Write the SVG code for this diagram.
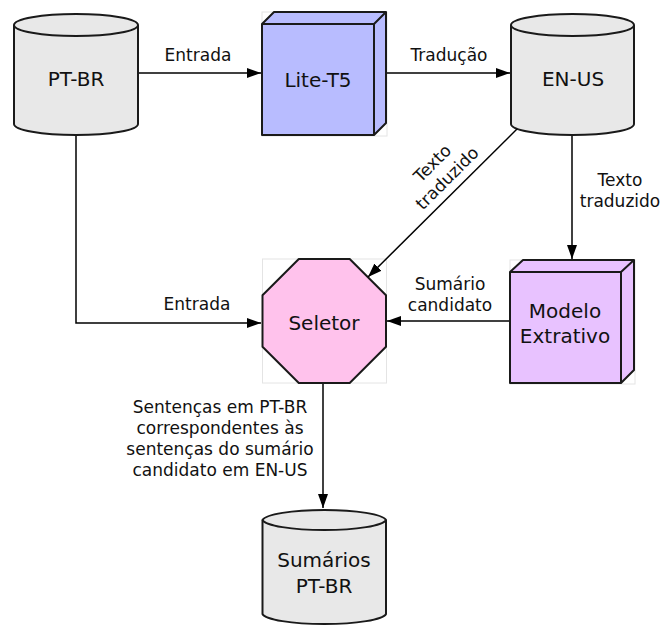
<svg xmlns="http://www.w3.org/2000/svg" width="662" height="626" viewBox="0 0 662 626">
<style>
.cyl{fill:#e8e8e8;stroke:#1a1a1a;stroke-width:2}
.cylin{fill:none;stroke:#1a1a1a;stroke-width:2}
.box{stroke:#1a1a1a;stroke-width:2;stroke-linejoin:round}
.bb{fill:none;stroke:#e4e4e4;stroke-width:1}
.edge{fill:none;stroke:#000;stroke-width:1.5}
text{font-family:"DejaVu Sans","Verdana",sans-serif;fill:#111}
.nl{font-size:20px;text-anchor:middle}
.el{font-size:17px;text-anchor:middle}
</style>
<defs>
<marker id="ah" markerUnits="userSpaceOnUse" markerWidth="15" markerHeight="11" refX="14" refY="5" orient="auto">
<path d="M0,0 L14,5 L0,10 z" fill="#000"/>
</marker>
</defs>
<rect width="662" height="626" fill="#fff"/>
<g id="pt-br">
<path class="cyl" d="M14,25 L14,124 A62,11 0 0 0 138,124 L138,25 A62,11 0 0 0 14,25 Z"/>
<path class="cylin" d="M14,25 A62,11 0 0 0 138,25"/>
<text class="nl" x="76" y="86">PT-BR</text>
</g>
<g id="lite-t5">
<rect class="bb" x="262" y="12" width="125" height="124"/>
<path class="box" fill="#b8bcff" d="M262,24 L274,12 L386,12 L386,123 L374,135 L262,135 Z"/>
<path class="box" fill="none" d="M262,24 L374,24 L374,135 M374,24 L386,12"/>
<text class="nl" x="318" y="87">Lite-T5</text>
</g>
<g id="en-us">
<path class="cyl" d="M511,25 L511,124 A61.5,11 0 0 0 634,124 L634,25 A61.5,11 0 0 0 511,25 Z"/>
<path class="cylin" d="M511,25 A61.5,11 0 0 0 634,25"/>
<text class="nl" x="573" y="86">EN-US</text>
</g>
<g id="seletor">
<rect class="bb" x="262.5" y="259" width="124" height="124"/>
<polygon fill="#ffc2ec" stroke="#1a1a1a" stroke-width="2" stroke-linejoin="round" points="298.8,259 349.7,259 386,295.3 386,346.7 349.7,383 298.8,383 262.5,346.7 262.5,295.3"/>
<text class="nl" x="324" y="330">Seletor</text>
</g>
<g id="modelo-extrativo">
<rect class="bb" x="510" y="260" width="125" height="124"/>
<path class="box" fill="#e8c2ff" d="M510,272 L523,260 L634,260 L634,370 L621,383 L510,383 Z"/>
<path class="box" fill="none" d="M510,272 L621,272 L621,383 M621,272 L634,260"/>
<text class="nl" x="565" y="318">Modelo</text>
<text class="nl" x="565" y="343">Extrativo</text>
</g>
<g id="sumarios-pt-br">
<path class="cyl" d="M262.5,520 L262.5,614 A62,11 0 0 0 386,614 L386,520 A62,11 0 0 0 262.5,520 Z"/>
<path class="cylin" d="M262.5,520 A62,11 0 0 0 386,520"/>
<text class="nl" x="324" y="567">Sumários</text>
<text class="nl" x="324" y="593">PT-BR</text>
</g>
<g id="connectors">
<path class="edge" d="M139,73 L261,73" marker-end="url(#ah)"/>
<path class="edge" d="M387,73 L510,73" marker-end="url(#ah)"/>
<path class="edge" d="M572,136 L572,259" marker-end="url(#ah)"/>
<path class="edge" d="M517,129 L368,277" marker-end="url(#ah)"/>
<path class="edge" d="M76,136 L76,323 L261,323" marker-end="url(#ah)"/>
<path class="edge" d="M509,321 L387,321" marker-end="url(#ah)"/>
<path class="edge" d="M323,384 L323,508" marker-end="url(#ah)"/>
<text class="el" x="198" y="61">Entrada</text>
<text class="el" x="449" y="61">Tradução</text>
<text class="el" x="197" y="310">Entrada</text>
<text class="el" x="450" y="290">Sumário</text>
<text class="el" x="450" y="311">candidato</text>
<text class="el" x="620" y="186">Texto</text>
<text class="el" x="620" y="207">traduzido</text>
<text class="el" transform="translate(440,171) rotate(-45)"><tspan x="0" y="-5">Texto</tspan><tspan x="0" y="16">traduzido</tspan></text>
<text class="el" x="220" y="413">Sentenças em PT-BR</text>
<text class="el" x="220" y="434">correspondentes às</text>
<text class="el" x="220" y="455">sentenças do sumário</text>
<text class="el" x="220" y="476">candidato em EN-US</text>
</g>
</svg>
